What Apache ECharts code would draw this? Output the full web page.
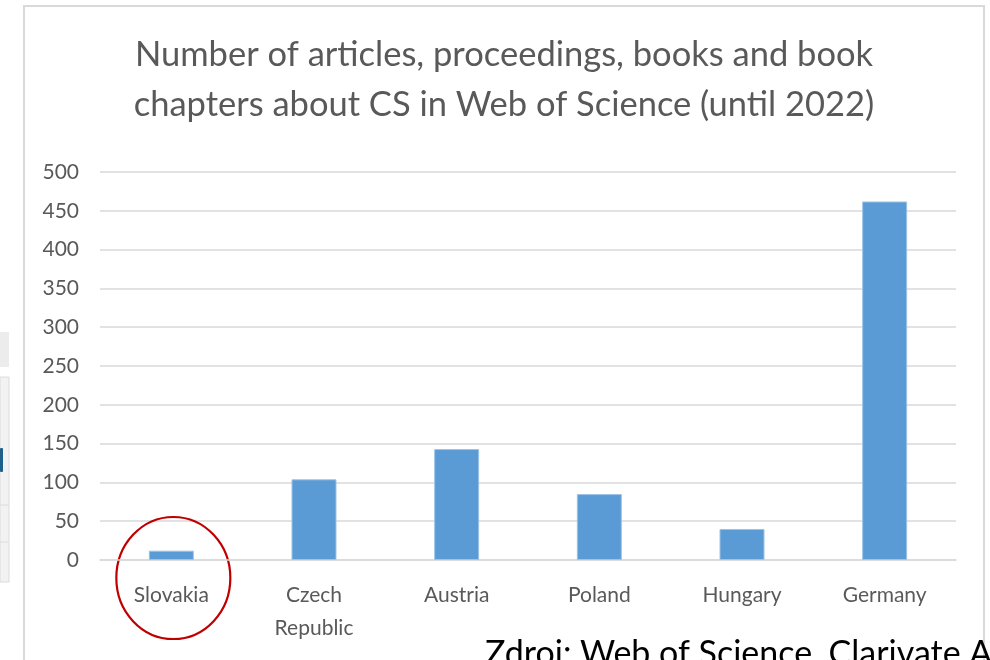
<!DOCTYPE html>
<html>
<head>
<meta charset="utf-8">
<script src="https://cdn.jsdelivr.net/npm/echarts@6/dist/echarts.min.js"></script>
<style>
html,body{margin:0;padding:0;background:#fff;}
#c{width:990px;height:660px;}
</style>
</head>
<body>
<div id="c"></div>
<script>
const titleLines = ['Number of articles, proceedings, books and book', 'chapters about CS in Web of Science (until 2022)'];
const categories = ['Slovakia', 'Czech\nRepublic', 'Austria', 'Poland', 'Hungary', 'Germany'];
const values = [12, 104, 143, 85, 40, 462];
const yTicks = { min: 0, max: 500, interval: 50 };
const sourceText = 'Zdroj: Web of Science, Clarivate Analytics';

const FONT = 'Lato';
const chart = echarts.init(document.getElementById('c'), null, { renderer: 'canvas' });

chart.setOption({
  backgroundColor: '#ffffff',
  animation: false,
  grid: { left: 100, right: 34, top: 172, bottom: 100 },
  xAxis: {
    type: 'category',
    data: categories,
    axisLine: { show: true, lineStyle: { color: '#d9d9d9', width: 1.5 } },
    axisTick: { show: false },
    axisLabel: { color: '#595959', fontFamily: FONT, fontSize: 21, lineHeight: 33, margin: 19, interval: 0, verticalAlign: 'top' }
  },
  yAxis: {
    type: 'value',
    min: yTicks.min, max: yTicks.max, interval: yTicks.interval,
    axisLine: { show: false },
    axisTick: { show: false },
    axisLabel: { color: '#595959', fontFamily: FONT, fontSize: 21, margin: 21 },
    splitLine: { lineStyle: { color: '#d9d9d9', width: 1.5 } }
  },
  series: [{
    type: 'bar',
    data: values,
    barWidth: 45,
    itemStyle: { color: '#5b9bd5', borderColor: '#9dc3e6', borderWidth: 1 }
  }]
});

const slovakX = chart.convertToPixel({ xAxisIndex: 0 }, 0);

chart.setOption({
  graphic: [
    // background fragments at the far left
    { type: 'rect', shape: { x: 0, y: 332, width: 9, height: 35 }, style: { fill: '#ececec' }, silent: true },
    { type: 'rect', shape: { x: 0, y: 377, width: 9, height: 205 }, style: { fill: '#f2f2f2', stroke: '#dcdcdc', lineWidth: 1 }, silent: true },
    { type: 'rect', shape: { x: 0, y: 448, width: 3, height: 24, r: 1 }, style: { fill: '#1f5f8b' }, silent: true },
    { type: 'line', shape: { x1: 0, y1: 505, x2: 9, y2: 505 }, style: { stroke: '#dcdcdc', lineWidth: 1 }, silent: true },
    { type: 'line', shape: { x1: 0, y1: 542, x2: 9, y2: 542 }, style: { stroke: '#dcdcdc', lineWidth: 1 }, silent: true },
    // chart area border
    { type: 'rect', shape: { x: 24, y: 6, width: 960, height: 700 }, style: { fill: 'none', stroke: '#d9d9d9', lineWidth: 2 }, silent: true },
    // title
    { type: 'text', x: 504, y: 37, style: { text: titleLines[0], fill: '#595959', font: '34.5px ' + FONT, textAlign: 'center', textVerticalAlign: 'top' }, silent: true },
    { type: 'text', x: 504, y: 87, style: { text: titleLines[1], fill: '#595959', font: '34.5px ' + FONT, textAlign: 'center', textVerticalAlign: 'top' }, silent: true },
    // red circle annotation
    { type: 'ellipse', shape: { cx: slovakX + 2, cy: 578, rx: 57, ry: 61 }, style: { fill: 'none', stroke: '#c00000', lineWidth: 2.2 }, silent: true },
    // source text (cut off at bottom)
    { type: 'text', x: 485, y: 637, style: { text: sourceText, fill: '#000000', font: '34px ' + FONT, textAlign: 'left', textVerticalAlign: 'top' }, silent: true }
  ]
});
</script>
</body>
</html>
